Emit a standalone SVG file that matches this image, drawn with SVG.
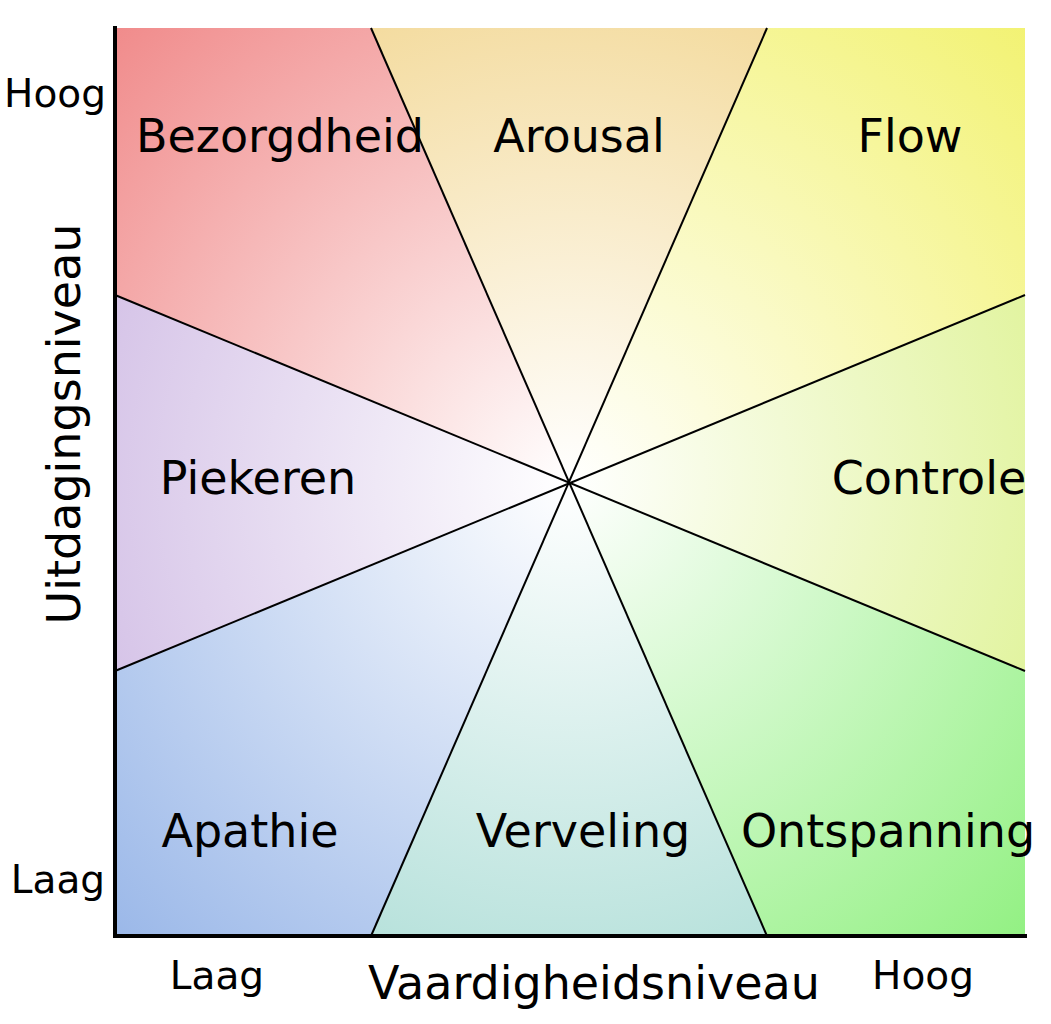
<svg xmlns="http://www.w3.org/2000/svg" width="1051" height="1024" viewBox="0 0 1051 1024">
<style>
.lbl{font-family:"DejaVu Sans",sans-serif;font-size:46px;fill:#000;text-anchor:middle}
.ax{font-family:"DejaVu Sans",sans-serif;font-size:39px;fill:#000;text-anchor:middle}
.div{stroke:#000;stroke-width:2;fill:none}
</style>
<defs>
<radialGradient id="gR" gradientUnits="userSpaceOnUse" cx="569" cy="482" r="660"><stop offset="0" stop-color="#fff"/><stop offset="1" stop-color="#f08888"/></radialGradient>
<radialGradient id="gO" gradientUnits="userSpaceOnUse" cx="569" cy="482" r="660"><stop offset="0" stop-color="#fff"/><stop offset="1" stop-color="#f0d080"/></radialGradient>
<radialGradient id="gY" gradientUnits="userSpaceOnUse" cx="569" cy="482" r="660"><stop offset="0" stop-color="#fff"/><stop offset="1" stop-color="#f2f270"/></radialGradient>
<radialGradient id="gYG" gradientUnits="userSpaceOnUse" cx="569" cy="482" r="660"><stop offset="0" stop-color="#fff"/><stop offset="1" stop-color="#d8f080"/></radialGradient>
<radialGradient id="gG" gradientUnits="userSpaceOnUse" cx="569" cy="482" r="660"><stop offset="0" stop-color="#fff"/><stop offset="1" stop-color="#90f080"/></radialGradient>
<radialGradient id="gT" gradientUnits="userSpaceOnUse" cx="569" cy="482" r="660"><stop offset="0" stop-color="#fff"/><stop offset="1" stop-color="#a0d8d0"/></radialGradient>
<radialGradient id="gB" gradientUnits="userSpaceOnUse" cx="569" cy="482" r="660"><stop offset="0" stop-color="#fff"/><stop offset="1" stop-color="#98b6e8"/></radialGradient>
<radialGradient id="gP" gradientUnits="userSpaceOnUse" cx="569" cy="482" r="660"><stop offset="0" stop-color="#fff"/><stop offset="1" stop-color="#c8b0e0"/></radialGradient>
</defs>
<rect width="1051" height="1024" fill="#fff"/>
<g id="sectors">
<polygon points="569,482 115,295 115,28 371,28" fill="url(#gR)"/>
<polygon points="569,482 371,28 767,28" fill="url(#gO)"/>
<polygon points="569,482 767,28 1025,28 1025,295" fill="url(#gY)"/>
<polygon points="569,482 1025,295 1025,671" fill="url(#gYG)"/>
<polygon points="569,482 1025,671 1025,936 767,936" fill="url(#gG)"/>
<polygon points="569,482 767,936 371,936" fill="url(#gT)"/>
<polygon points="569,482 371,936 115,936 115,671" fill="url(#gB)"/>
<polygon points="569,482 115,671 115,295" fill="url(#gP)"/>
</g>
<g id="connectors">
<line class="div" x1="371" y1="28" x2="767" y2="936"/>
<line class="div" x1="767" y1="28" x2="371" y2="936"/>
<line class="div" x1="115" y1="295" x2="1025" y2="671"/>
<line class="div" x1="115" y1="671" x2="1025" y2="295"/>
<polyline points="115,26 115,936 1027,936" fill="none" stroke="#000" stroke-width="4"/>
</g>
<g id="bezorgdheid"><text class="lbl" x="280" y="152">Bezorgdheid</text></g>
<g id="arousal"><text class="lbl" x="579" y="152">Arousal</text></g>
<g id="flow"><text class="lbl" x="910" y="152">Flow</text></g>
<g id="controle"><text class="lbl" x="929" y="494">Controle</text></g>
<g id="ontspanning"><text class="lbl" x="888" y="847">Ontspanning</text></g>
<g id="verveling"><text class="lbl" x="583" y="847">Verveling</text></g>
<g id="apathie"><text class="lbl" x="250" y="847">Apathie</text></g>
<g id="piekeren"><text class="lbl" x="258" y="494">Piekeren</text></g>
<g id="axes">
<text class="ax" x="55" y="107">Hoog</text>
<text class="ax" x="58" y="893">Laag</text>
<text class="ax" x="217" y="989">Laag</text>
<text class="ax" x="923" y="989">Hoog</text>
<text class="lbl" x="594" y="999">Vaardigheidsniveau</text>
<text class="lbl" transform="translate(80,424) rotate(-90)">Uitdagingsniveau</text>
</g>
</svg>
